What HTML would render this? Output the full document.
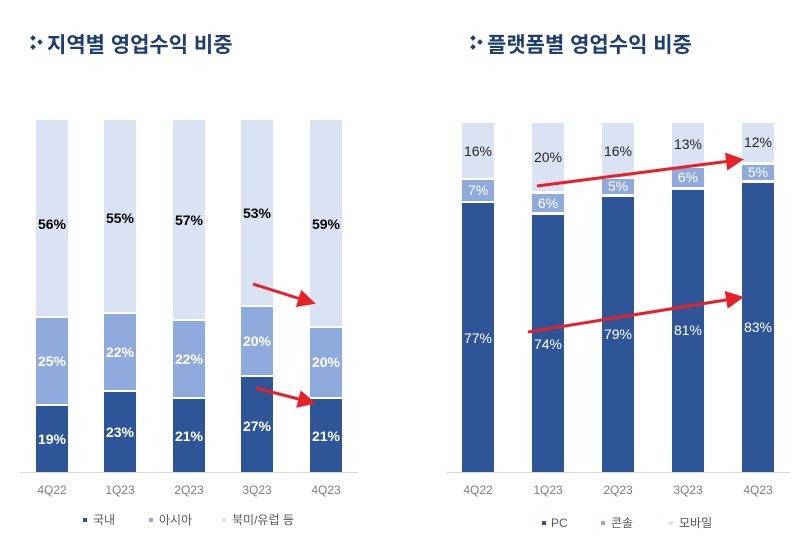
<!DOCTYPE html>
<html><head><meta charset="utf-8"><style>
body{margin:0;background:#fff;width:800px;height:553px;overflow:hidden}
svg{display:block;font-family:"Liberation Sans","Noto Sans CJK KR",sans-serif}
</style></head><body>
<svg width="800" height="553" viewBox="0 0 800 553">
<defs><marker id="ah" markerWidth="6" markerHeight="6" refX="4" refY="3" orient="auto" markerUnits="strokeWidth"><path d="M0,0 L6,3 L0,6 Z" fill="#e8202a"/></marker></defs>
<g fill="#1f3d6e">
<rect x="31" y="36" width="4" height="4" transform="rotate(45 33 38)"/><rect x="38" y="40" width="4" height="4" transform="rotate(45 40 42)"/><rect x="31" y="45" width="4" height="4" transform="rotate(45 33 47)"/>
<text x="47" y="52" font-size="21" font-weight="bold">지역별 영업수익 비중</text>
<rect x="471" y="36" width="4" height="4" transform="rotate(45 473 38)"/><rect x="478" y="40" width="4" height="4" transform="rotate(45 480 42)"/><rect x="471" y="45" width="4" height="4" transform="rotate(45 473 47)"/>
<text x="487" y="52" font-size="21" font-weight="bold">플랫폼별 영업수익 비중</text>
</g>
<g>
<rect x="36" y="120" width="32" height="196" fill="#dae3f3"/><rect x="36" y="318" width="32" height="86" fill="#8faadc"/><rect x="36" y="406" width="32" height="66" fill="#2e5597"/>
<rect x="104" y="120" width="32" height="192" fill="#dae3f3"/><rect x="104" y="314" width="32" height="76" fill="#8faadc"/><rect x="104" y="392" width="32" height="80" fill="#2e5597"/>
<rect x="173" y="120" width="32" height="199" fill="#dae3f3"/><rect x="173" y="321" width="32" height="76" fill="#8faadc"/><rect x="173" y="399" width="32" height="73" fill="#2e5597"/>
<rect x="241" y="120" width="32" height="185" fill="#dae3f3"/><rect x="241" y="307" width="32" height="68" fill="#8faadc"/><rect x="241" y="377" width="32" height="95" fill="#2e5597"/>
<rect x="310" y="120" width="32" height="206" fill="#dae3f3"/><rect x="310" y="328" width="32" height="69" fill="#8faadc"/><rect x="310" y="399" width="32" height="73" fill="#2e5597"/>
</g>
<line x1="20" y1="472.5" x2="358" y2="472.5" stroke="#d9d9d9"/>
<g font-size="14" font-weight="bold" text-anchor="middle">
<g fill="#000"><text x="52" y="229">56%</text><text x="120" y="223">55%</text><text x="189" y="225">57%</text><text x="257" y="218">53%</text><text x="326" y="229">59%</text></g>
<g fill="#fff"><text x="52" y="366">25%</text><text x="120" y="357">22%</text><text x="189" y="364">22%</text><text x="257" y="346">20%</text><text x="326" y="367">20%</text>
<text x="52" y="444">19%</text><text x="120" y="437">23%</text><text x="189" y="441">21%</text><text x="257" y="431">27%</text><text x="326" y="441">21%</text></g>
</g>
<g font-size="12" fill="#7f7f7f" text-anchor="middle"><text x="52" y="494">4Q22</text><text x="120" y="494">1Q23</text><text x="189" y="494">2Q23</text><text x="257" y="494">3Q23</text><text x="326" y="494">4Q23</text></g>
<g font-size="12" fill="#595959">
<rect x="83" y="518" width="4" height="4" fill="#2e5597"/><text x="93" y="524">국내</text>
<rect x="149" y="518" width="4" height="4" fill="#8faadc"/><text x="159" y="524">아시아</text>
<rect x="222" y="518" width="4" height="4" fill="#dae3f3"/><text x="232" y="524">북미/유럽 등</text>
</g>
<g>
<rect x="462" y="123" width="32" height="55" fill="#dae3f3"/><rect x="462" y="180" width="32" height="21" fill="#8faadc"/><rect x="462" y="203" width="32" height="269" fill="#2e5597"/>
<rect x="532" y="123" width="32" height="68" fill="#dae3f3"/><rect x="532" y="194" width="32" height="18" fill="#8faadc"/><rect x="532" y="215" width="32" height="257" fill="#2e5597"/>
<rect x="602" y="123" width="32" height="54" fill="#dae3f3"/><rect x="602" y="179" width="32" height="15" fill="#8faadc"/><rect x="602" y="197" width="32" height="275" fill="#2e5597"/>
<rect x="672" y="123" width="32" height="43" fill="#dae3f3"/><rect x="672" y="168" width="32" height="19" fill="#8faadc"/><rect x="672" y="190" width="32" height="282" fill="#2e5597"/>
<rect x="742" y="123" width="32" height="39" fill="#dae3f3"/><rect x="742" y="165" width="32" height="15" fill="#8faadc"/><rect x="742" y="183" width="32" height="289" fill="#2e5597"/>
</g>
<line x1="446" y1="472.5" x2="790" y2="472.5" stroke="#d9d9d9"/>
<g font-size="14" text-anchor="middle">
<g fill="#262626"><text x="478" y="156">16%</text><text x="548" y="162">20%</text><text x="618" y="156">16%</text><text x="688" y="149">13%</text><text x="758" y="147">12%</text></g>
<g fill="#fff"><text x="478" y="195">7%</text><text x="548" y="208">6%</text><text x="618" y="191">5%</text><text x="688" y="182">6%</text><text x="758" y="177">5%</text>
<text x="478" y="343">77%</text><text x="548" y="349">74%</text><text x="618" y="339">79%</text><text x="688" y="335">81%</text><text x="758" y="332">83%</text></g>
</g>
<g font-size="12" fill="#7f7f7f" text-anchor="middle"><text x="478" y="494">4Q22</text><text x="548" y="494">1Q23</text><text x="618" y="494">2Q23</text><text x="688" y="494">3Q23</text><text x="758" y="494">4Q23</text></g>
<g font-size="12" fill="#595959">
<rect x="542" y="521" width="4" height="4" fill="#2e5597"/><text x="551" y="527">PC</text>
<rect x="601" y="521" width="4" height="4" fill="#8faadc"/><text x="611" y="527">콘솔</text>
<rect x="669" y="521" width="4" height="4" fill="#dae3f3"/><text x="679" y="527">모바일</text>
</g>
<g stroke="#e8202a" stroke-width="3" fill="none" marker-end="url(#ah)">
<line x1="253" y1="284" x2="310" y2="302"/>
<line x1="256" y1="388" x2="310" y2="402"/>
<line x1="537" y1="186" x2="738" y2="160"/>
<line x1="528" y1="332" x2="738" y2="298"/>
</g>
</svg>
</body></html>
